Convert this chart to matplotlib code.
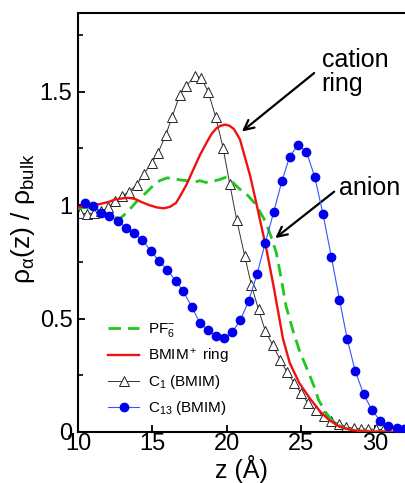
import matplotlib
matplotlib.use("Agg")
import matplotlib.pyplot as plt
from matplotlib.ticker import MultipleLocator, FixedLocator

plt.rcParams["font.family"] = ["Liberation Sans", "DejaVu Sans"]
plt.rcParams["mathtext.fontset"] = "custom"
plt.rcParams["mathtext.rm"] = "Liberation Sans"
plt.rcParams["mathtext.it"] = "Liberation Sans:italic"
plt.rcParams["mathtext.sf"] = "Liberation Sans"

# PF6- anion (green dashed)
pf6_z = [10.0, 10.5, 11.0, 11.5, 12.0, 12.4, 12.8, 13.2, 13.6, 14.0, 14.5, 15.0,
         15.5, 16.0, 16.4, 16.8, 17.3, 17.8, 18.2, 18.6, 19.1, 19.5, 19.9, 20.2,
         20.5, 20.9, 21.3, 21.9, 22.3, 22.6, 23.0, 23.35, 23.7, 24.0, 24.5, 24.9,
         25.4, 25.9, 26.2, 26.7, 27.2, 28.0, 29.0, 32.0]
pf6_rho = [0.985, 0.99, 0.985, 0.975, 0.96, 0.949, 0.94, 0.962, 0.99, 1.02, 1.05, 1.082,
           1.108, 1.12, 1.118, 1.112, 1.108, 1.10, 1.108, 1.10, 1.106, 1.112, 1.122, 1.115,
           1.095, 1.07, 1.052, 1.008, 0.965, 0.93, 0.86, 0.79, 0.67, 0.555, 0.44, 0.36,
           0.28, 0.20, 0.14, 0.085, 0.04, 0.015, 0.004, 0.0]

# BMIM+ ring (red)
ring_z = [10.0, 10.5, 11.0, 11.5, 12.1, 12.5, 13.0, 13.4, 13.8, 14.3, 14.8, 15.3,
          15.8, 16.2, 16.6, 16.85, 17.3, 17.75, 18.2, 18.65, 19.0, 19.32, 19.6, 19.9,
          20.2, 20.5, 20.9, 21.2, 21.6, 22.1, 22.7, 23.2, 23.5, 23.8, 24.25, 24.9,
          25.6, 26.3, 26.9, 27.6, 28.5, 29.5, 32.0]
ring_rho = [0.99, 0.996, 1.0, 1.005, 1.015, 1.025, 1.03, 1.032, 1.028, 1.013, 1.0, 0.99,
            0.986, 0.993, 1.01, 1.037, 1.09, 1.155, 1.22, 1.275, 1.315, 1.339, 1.35, 1.355,
            1.35, 1.335, 1.29, 1.22, 1.126, 0.98, 0.80, 0.63, 0.52, 0.41, 0.305, 0.215,
            0.149, 0.09, 0.053, 0.023, 0.008, 0.002, 0.0]

# C1 (BMIM), open triangles
c1_z = [10.15, 10.63, 11.1, 11.58, 12.03, 12.5, 12.97, 13.45, 13.94, 14.42, 14.95, 15.4,
        15.91, 16.34, 16.85, 17.3, 17.86, 18.31, 18.76, 19.27, 19.77, 20.21, 20.68, 21.22,
        21.67, 22.15, 22.61, 23.1, 23.62, 24.07, 24.55, 25.03, 25.48, 26.0, 26.55, 27.05,
        27.6, 28.06, 28.55, 29.06, 29.55, 30.05, 30.55, 31.05, 31.55, 32.0]
c1_rho = [0.965, 0.962, 0.965, 0.972, 0.99, 1.018, 1.04, 1.06, 1.089, 1.137, 1.185, 1.232,
          1.31, 1.39, 1.486, 1.526, 1.57, 1.56, 1.50, 1.388, 1.251, 1.095, 0.936, 0.776,
          0.648, 0.54, 0.445, 0.384, 0.317, 0.264, 0.216, 0.17, 0.128, 0.097, 0.071, 0.05,
          0.035, 0.023, 0.016, 0.014, 0.012, 0.012, 0.01, 0.01, 0.01, 0.01]

# C13 (BMIM), filled circles
c13_z = [10.47, 11.03, 11.55, 12.1, 12.67, 13.2, 13.76, 14.32, 14.88, 15.44, 16.0, 16.57,
         17.08, 17.64, 18.2, 18.73, 19.28, 19.82, 20.38, 20.93, 21.49, 22.05, 22.61, 23.17,
         23.73, 24.25, 24.81, 25.37, 25.93, 26.49, 27.05, 27.6, 28.12, 28.66, 29.22, 29.78,
         30.34, 30.9, 31.46, 31.95]
c13_rho = [1.011, 0.996, 0.967, 0.952, 0.932, 0.901, 0.876, 0.847, 0.80, 0.755, 0.714, 0.667,
           0.622, 0.553, 0.482, 0.45, 0.422, 0.414, 0.44, 0.494, 0.578, 0.695, 0.835, 0.969,
           1.107, 1.214, 1.265, 1.236, 1.126, 0.961, 0.773, 0.584, 0.41, 0.269, 0.168, 0.097,
           0.05, 0.026, 0.016, 0.012]

fig = plt.figure(figsize=(4.05, 4.83), dpi=100)
ax = fig.add_axes([0.1926, 0.1056, 0.807, 0.8675])

ax.plot(pf6_z, pf6_rho, color="#1ec81e", lw=2.0, dashes=(4.5, 2.5),
        label=r"PF$_6^{\mathregular{-}}$", zorder=3)
ax.plot(ring_z, ring_rho, color="#f01010", lw=1.7, label=r"BMIM$^+$ ring", zorder=4)
ax.plot(c1_z, c1_rho, color="#333333", lw=0.7, marker="^", ms=7.5,
        mfc="white", mec="#222222", mew=0.7, label=r"C$_1$ (BMIM)", zorder=2)
ax.plot(c13_z, c13_rho, color="#3355ff", lw=0.8, marker="o", ms=6,
        mfc="#0000ee", mec="#0000ee", label=r"C$_{13}$ (BMIM)", zorder=5)

ax.set_xlim(10, 32.0)
ax.set_ylim(0, 1.847)
ax.xaxis.set_major_locator(FixedLocator([10, 15, 20, 25, 30]))
ax.yaxis.set_major_locator(FixedLocator([0, 0.5, 1.0, 1.5]))
ax.yaxis.set_minor_locator(MultipleLocator(0.25))
ax.set_yticklabels(["0", "0.5", "1", "1.5"])
ax.tick_params(which="both", direction="in", labelsize=17, top=False, right=False)
ax.tick_params(which="major", length=5, width=1.3)
ax.tick_params(which="minor", length=3.5, width=1.2)
ax.tick_params(axis="x", pad=1)
ax.tick_params(axis="y", pad=4)
for side in ["left", "bottom", "top"]:
    ax.spines[side].set_linewidth(1.5)
ax.spines["right"].set_visible(False)

ax.set_xlabel("z (Å)", fontsize=18, labelpad=0)
ax.set_ylabel(r"$\mathregular{\rho_\alpha(z)\ /\ \rho_{bulk}}$", fontsize=19)
ax.yaxis.set_label_coords(-0.125, 0.51)

arrow_style = dict(arrowstyle="->,head_length=0.7,head_width=0.35",
                   color="black", lw=1.6)
ax.text(26.4, 1.585, "cation\nring", fontsize=18, ha="left", va="center",
        linespacing=1.0)
ax.annotate("", xy=(20.89, 1.317), xytext=(26.04, 1.59), arrowprops=arrow_style)
ax.text(27.6, 1.076, "anion", fontsize=18, ha="left", va="center")
ax.annotate("", xy=(23.13, 0.847), xytext=(27.39, 1.067), arrowprops=arrow_style)

leg = ax.legend(loc="lower left", bbox_to_anchor=(0.06, 0.01), frameon=False,
                fontsize=11, handlelength=2.0, labelspacing=0.5, handletextpad=0.6,
                borderaxespad=0.3)

fig.savefig("out.png", dpi=100)
